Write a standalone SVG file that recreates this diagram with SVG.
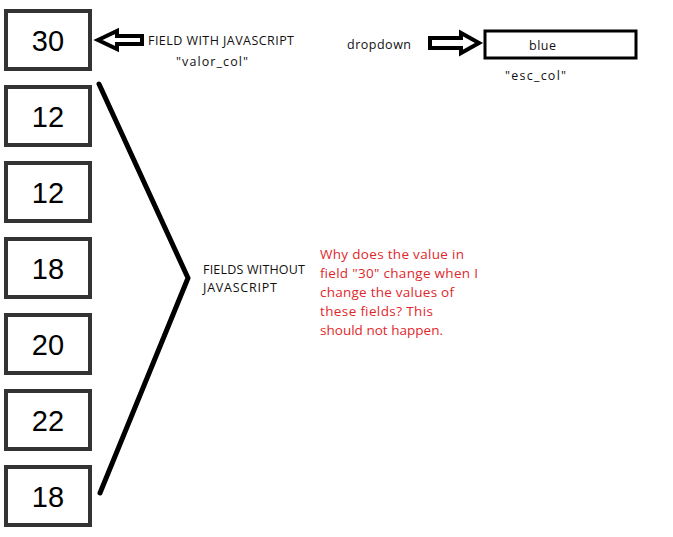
<svg xmlns="http://www.w3.org/2000/svg" width="673" height="537" viewBox="0 0 673 537">
<style>
.box{fill:#fff;stroke:#333;stroke-width:4}
.num{font-family:"Liberation Sans",Arial,sans-serif;font-size:29px;fill:#000;text-anchor:middle}
.lbl{font-family:"Open Sans","Noto Sans",sans-serif;font-size:12.5px;fill:#111}
.red{font-family:"Open Sans","Noto Sans",sans-serif;font-size:13.5px;fill:#e0282c}
.arr{fill:#fff;stroke:#000;stroke-width:4;stroke-linejoin:miter}
</style>
<rect width="673" height="537" fill="#fff"/>
<g id="f30"><rect class="box" x="6" y="11" width="84" height="58"/><text class="num" x="48" y="51">30</text></g>
<g id="f12a"><rect class="box" x="6" y="87" width="84" height="58"/><text class="num" x="48" y="127">12</text></g>
<g id="f12b"><rect class="box" x="6" y="163" width="84" height="58"/><text class="num" x="48" y="203">12</text></g>
<g id="f18a"><rect class="box" x="6" y="239" width="84" height="58"/><text class="num" x="48" y="279">18</text></g>
<g id="f20"><rect class="box" x="6" y="315" width="84" height="58"/><text class="num" x="48" y="355">20</text></g>
<g id="f22"><rect class="box" x="6" y="391" width="84" height="58"/><text class="num" x="48" y="431">22</text></g>
<g id="f18b"><rect class="box" x="6" y="467" width="84" height="58"/><text class="num" x="48" y="507">18</text></g>
<g id="blue"><rect x="485" y="31" width="151" height="27" fill="#fff" stroke="#000" stroke-width="3"/><text class="lbl" x="529" y="50" font-size="13.5" textLength="27">blue</text></g>
<g id="connectors">
<polygon class="arr" points="98,40 117,31 117,36 142,36 142,44 117,44 117,49"/>
<polygon class="arr" points="430,38 461,38 461,33 479,43 461,53 461,48 430,48"/>
<polyline points="99,84 188,278 100,493" fill="none" stroke="#000" stroke-width="5" stroke-linecap="round" stroke-linejoin="miter"/>
</g>
<g id="labels">
<text class="lbl" x="148" y="45" textLength="146">FIELD WITH JAVASCRIPT</text>
<text class="lbl" x="176" y="66" textLength="72">"valor_col"</text>
<text class="lbl" x="347" y="49" textLength="64">dropdown</text>
<text class="lbl" x="505" y="80" textLength="61">"esc_col"</text>
<text class="lbl" x="203" y="274" textLength="102">FIELDS WITHOUT</text>
<text class="lbl" x="203" y="292" textLength="74">JAVASCRIPT</text>
</g>
<g id="question">
<text class="red" x="320" y="259" textLength="144">Why does the value in</text>
<text class="red" x="320" y="278" textLength="158">field "30" change when I</text>
<text class="red" x="320" y="297" textLength="134">change the values of</text>
<text class="red" x="320" y="316" textLength="113">these fields? This</text>
<text class="red" x="320" y="335" textLength="123">should not happen.</text>
</g>
</svg>
